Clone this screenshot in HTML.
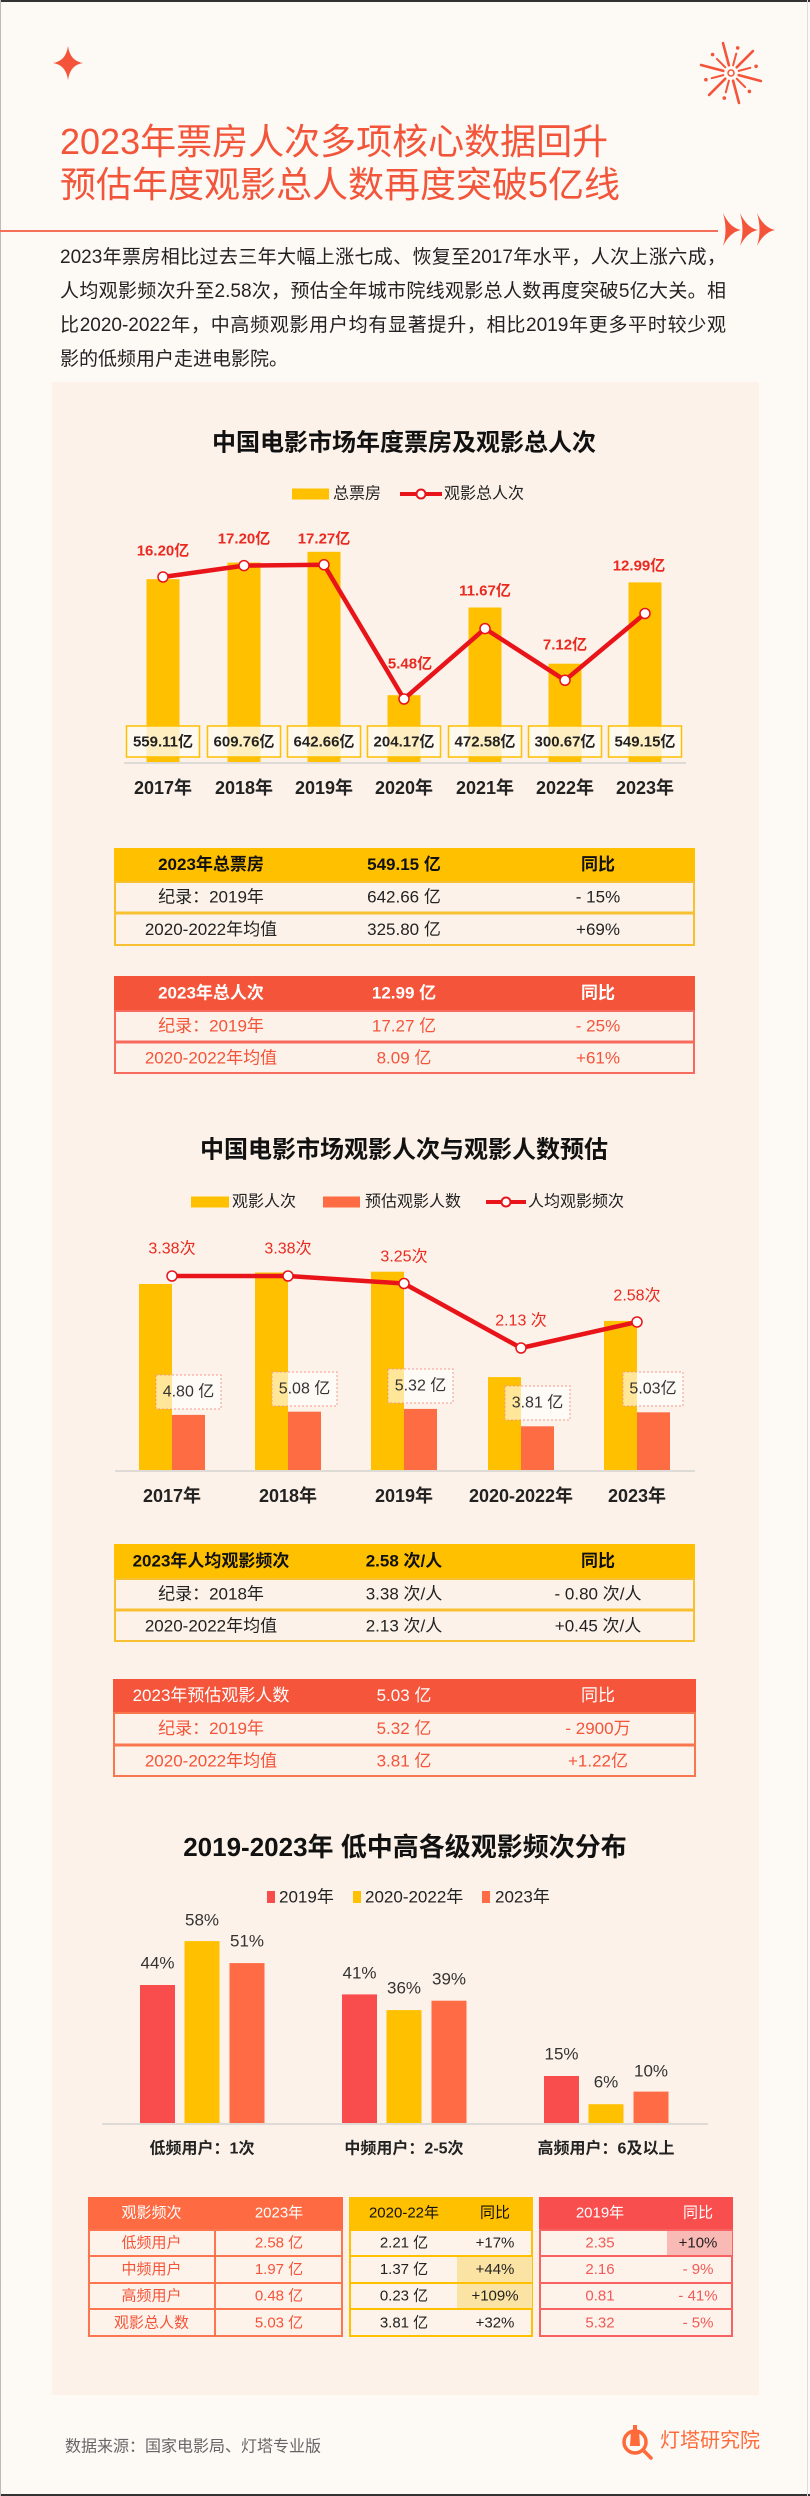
<!DOCTYPE html>
<html><head><meta charset="utf-8">
<style>
html,body{margin:0;padding:0;}
body{width:810px;height:2496px;position:relative;background:#fdf9f5;overflow:hidden;font-family:"Liberation Sans","Noto Sans CJK SC",sans-serif;}
svg{position:absolute;left:0;top:0;}
svg text{font-family:"Liberation Sans","Noto Sans CJK SC",sans-serif;}
.title{position:absolute;left:60px;font-size:36px;line-height:43px;color:#f2553a;white-space:nowrap;letter-spacing:0;}
.p{position:absolute;left:60px;width:666px;font-size:19px;line-height:34px;color:#222;text-align:justify;text-align-last:justify;}
</style></head><body>
<svg width="810" height="2496" viewBox="0 0 810 2496">
<!-- frame -->
<rect x="0" y="0" width="810" height="2" fill="#333"/>
<rect x="0" y="2494" width="810" height="2" fill="#333"/>
<rect x="0" y="0" width="1" height="2496" fill="#bbb"/>
<rect x="807" y="0" width="1" height="2496" fill="#ddd"/>

<!-- star -->
<path d="M68,46 Q70,61 83,63 Q70,65 68,80 Q66,65 53,63 Q66,61 68,46 Z" fill="#f4543a"/>
<!-- fireworks -->
<g stroke="#f4543a" stroke-linecap="round" fill="none">
<g stroke-width="2.6">
<line x1="738.7" y1="75.1" x2="760.9" y2="81.0"/>
<line x1="733.1" y1="80.7" x2="739.0" y2="102.9"/>
<line x1="725.3" y1="78.7" x2="709.1" y2="94.9"/>
<line x1="723.3" y1="70.9" x2="701.1" y2="65.0"/>
<line x1="728.9" y1="65.3" x2="723.0" y2="43.1"/>
<line x1="736.7" y1="67.3" x2="752.9" y2="51.1"/>
</g>
<g stroke-width="2">
<line x1="736.7" y1="78.7" x2="745.1" y2="87.1"/>
<line x1="728.9" y1="80.7" x2="725.8" y2="92.3"/>
<line x1="723.3" y1="75.1" x2="711.7" y2="78.2"/>
<line x1="725.3" y1="67.3" x2="716.9" y2="58.9"/>
<line x1="733.1" y1="65.3" x2="736.2" y2="53.7"/>
<line x1="738.7" y1="70.9" x2="750.3" y2="67.8"/>
</g>
<circle cx="731" cy="73" r="3" stroke-width="1.5"/>
</g>
<g fill="#f4543a">
<circle cx="749.4" cy="91.4" r="1.8"/><circle cx="724.3" cy="98.1" r="1.8"/><circle cx="705.9" cy="79.7" r="1.8"/>
<circle cx="712.6" cy="54.6" r="1.8"/><circle cx="737.7" cy="47.9" r="1.8"/><circle cx="756.1" cy="66.3" r="1.8"/>
</g>

<!-- divider line + arrows -->
<line x1="0" y1="231" x2="718" y2="231" stroke="#f4705a" stroke-width="2"/>
<g fill="#f4543a">
<path d="M723,213 Q730,228 741,230 Q730,232 723,246 Q728,230 723,213 Z"/>
<path d="M740,213 Q747,228 758,230 Q747,232 740,246 Q745,230 740,213 Z"/>
<path d="M757,213 Q764,228 775,230 Q764,232 757,246 Q762,230 757,213 Z"/>
</g>

<!-- card -->
<rect x="52" y="382" width="707" height="2013" fill="#fcf2e9"/>

<!-- ===== Chart 1 ===== -->
<text x="404" y="443" text-anchor="middle" dominant-baseline="central" font-size="24" font-weight="bold" fill="#111">中国电影市场年度票房及观影总人次</text>
<rect x="292" y="488.5" width="37" height="11" fill="#ffc000"/>
<text x="333" y="494" dominant-baseline="central" font-size="16" fill="#222">总票房</text>
<line x1="400" y1="494" x2="442" y2="494" stroke="#e8141a" stroke-width="4"/>
<circle cx="421" cy="494" r="4.5" fill="#fff" stroke="#e8141a" stroke-width="2"/>
<text x="444" y="494" dominant-baseline="central" font-size="16" fill="#222">观影总人次</text>

<g fill="#ffc000">
<rect x="146.5" y="579.2" width="33" height="182.8"/>
<rect x="227.5" y="562.6" width="33" height="199.4"/>
<rect x="307.5" y="551.8" width="33" height="210.2"/>
<rect x="387.5" y="695.2" width="33" height="66.8"/>
<rect x="468.5" y="607.5" width="33" height="154.5"/>
<rect x="548.5" y="663.7" width="33" height="98.3"/>
<rect x="628.5" y="582.4" width="33" height="179.6"/>
</g>
<line x1="124" y1="763" x2="686" y2="763" stroke="#dedad6" stroke-width="2"/>
<polyline points="163,577 244,565.6 324,564.8 404,699 485,628.6 565,680.3 645,613.5" fill="none" stroke="#e8141a" stroke-width="4.5" stroke-linejoin="round"/>
<g fill="#fff" stroke="#e8141a" stroke-width="1.5">
<circle cx="163" cy="577" r="5"/><circle cx="244" cy="565.6" r="5"/><circle cx="324" cy="564.8" r="5"/>
<circle cx="404" cy="699" r="5"/><circle cx="485" cy="628.6" r="5"/><circle cx="565" cy="680.3" r="5"/><circle cx="645" cy="613.5" r="5"/>
</g>
<g font-size="15" font-weight="bold" fill="#ea2a20" text-anchor="middle" dominant-baseline="central">
<text x="163" y="551">16.20亿</text>
<text x="244" y="539">17.20亿</text>
<text x="324" y="539">17.27亿</text>
<text x="410" y="664">5.48亿</text>
<text x="485" y="591">11.67亿</text>
<text x="565" y="645">7.12亿</text>
<text x="639" y="566">12.99亿</text>
</g>
<g fill="rgba(255,250,240,0.8)" stroke="#ffc000" stroke-width="1.5">
<rect x="126.5" y="726" width="73" height="31"/>
<rect x="207.5" y="726" width="73" height="31"/>
<rect x="287.5" y="726" width="73" height="31"/>
<rect x="367.5" y="726" width="73" height="31"/>
<rect x="448.5" y="726" width="73" height="31"/>
<rect x="528.5" y="726" width="73" height="31"/>
<rect x="608.5" y="726" width="73" height="31"/>
</g>
<g font-size="15" font-weight="bold" fill="#222" text-anchor="middle" dominant-baseline="central">
<text x="163" y="742">559.11亿</text>
<text x="244" y="742">609.76亿</text>
<text x="324" y="742">642.66亿</text>
<text x="404" y="742">204.17亿</text>
<text x="485" y="742">472.58亿</text>
<text x="565" y="742">300.67亿</text>
<text x="645" y="742">549.15亿</text>
</g>
<g font-size="18" font-weight="bold" fill="#222" text-anchor="middle" dominant-baseline="central">
<text x="163" y="788">2017年</text>
<text x="244" y="788">2018年</text>
<text x="324" y="788">2019年</text>
<text x="404" y="788">2020年</text>
<text x="485" y="788">2021年</text>
<text x="565" y="788">2022年</text>
<text x="645" y="788">2023年</text>
</g>

<!-- Table 1 -->
<rect x="114" y="848" width="581" height="33" fill="#ffc000"/>
<rect x="115" y="882" width="579" height="63" fill="#fcf2e9" stroke="#f7c031" stroke-width="2"/>
<line x1="115" y1="913" x2="694" y2="913" stroke="#f7c031" stroke-width="3"/>
<g font-size="17" text-anchor="middle" dominant-baseline="central">
<g font-weight="bold" fill="#111">
<text x="211" y="864.5">2023年总票房</text><text x="404" y="864.5">549.15 亿</text><text x="598" y="864.5">同比</text>
</g>
<g fill="#222">
<text x="211" y="897">纪录：2019年</text><text x="404" y="897">642.66 亿</text><text x="598" y="897">- 15%</text>
<text x="211" y="929.5">2020-2022年均值</text><text x="404" y="929.5">325.80 亿</text><text x="598" y="929.5">+69%</text>
</g>
</g>

<!-- Table 2 -->
<rect x="114" y="976" width="581" height="34" fill="#f4543a"/>
<rect x="115" y="1011" width="579" height="62" fill="#fcf2e9" stroke="#f76a5e" stroke-width="2"/>
<line x1="115" y1="1042" x2="694" y2="1042" stroke="#f76a5e" stroke-width="3"/>
<g font-size="17" text-anchor="middle" dominant-baseline="central">
<g font-weight="bold" fill="#fff">
<text x="211" y="993">2023年总人次</text><text x="404" y="993">12.99 亿</text><text x="598" y="993">同比</text>
</g>
<g fill="#f4543a">
<text x="211" y="1026">纪录：2019年</text><text x="404" y="1026">17.27 亿</text><text x="598" y="1026">- 25%</text>
<text x="211" y="1058">2020-2022年均值</text><text x="404" y="1058">8.09 亿</text><text x="598" y="1058">+61%</text>
</g>
</g>

<!-- ===== Chart 2 ===== -->
<text x="404" y="1150" text-anchor="middle" dominant-baseline="central" font-size="24" font-weight="bold" fill="#111">中国电影市场观影人次与观影人数预估</text>
<rect x="191" y="1196.5" width="38" height="11" fill="#ffc000"/>
<text x="232" y="1202" dominant-baseline="central" font-size="16" fill="#222">观影人次</text>
<rect x="323" y="1196.5" width="37" height="11" fill="#fe6c44"/>
<text x="365" y="1202" dominant-baseline="central" font-size="16" fill="#222">预估观影人数</text>
<line x1="486" y1="1202" x2="526" y2="1202" stroke="#e8141a" stroke-width="4"/>
<circle cx="506" cy="1202" r="4.5" fill="#fff" stroke="#e8141a" stroke-width="2"/>
<text x="528" y="1202" dominant-baseline="central" font-size="16" fill="#222">人均观影频次</text>

<g fill="#ffc000">
<rect x="139" y="1284" width="33" height="186"/>
<rect x="255" y="1272.5" width="33" height="197.5"/>
<rect x="371" y="1271.7" width="33" height="198.3"/>
<rect x="488" y="1377.1" width="33" height="92.9"/>
<rect x="604" y="1320.9" width="33" height="149.1"/>
</g>
<g fill="#fe6c44">
<rect x="172" y="1414.9" width="33" height="55.1"/>
<rect x="288" y="1411.7" width="33" height="58.3"/>
<rect x="404" y="1408.9" width="33" height="61.1"/>
<rect x="521" y="1426.3" width="33" height="43.7"/>
<rect x="637" y="1412.3" width="33" height="57.7"/>
</g>
<line x1="115" y1="1471" x2="695" y2="1471" stroke="#dedad6" stroke-width="2"/>
<polyline points="172,1276 288,1276 404,1283.5 521,1348 637,1322" fill="none" stroke="#e8141a" stroke-width="4.5" stroke-linejoin="round"/>
<g fill="#fff" stroke="#e8141a" stroke-width="1.5">
<circle cx="172" cy="1276" r="5"/><circle cx="288" cy="1276" r="5"/><circle cx="404" cy="1283.5" r="5"/>
<circle cx="521" cy="1348" r="5"/><circle cx="637" cy="1322" r="5"/>
</g>
<g font-size="16" fill="#ea2a20" text-anchor="middle" dominant-baseline="central">
<text x="172" y="1249">3.38次</text>
<text x="288" y="1249">3.38次</text>
<text x="404" y="1257">3.25次</text>
<text x="521" y="1321">2.13 次</text>
<text x="637" y="1296">2.58次</text>
</g>
<g fill="rgba(255,255,255,0.6)" stroke="#f59a8a" stroke-width="1" stroke-dasharray="2,2">
<rect x="156" y="1375" width="65" height="34"/>
<rect x="272" y="1372" width="65" height="34"/>
<rect x="388" y="1369" width="65" height="34"/>
<rect x="505" y="1386" width="65" height="34"/>
<rect x="623" y="1372" width="60" height="34"/>
</g>
<g font-size="16" fill="#333" text-anchor="middle" dominant-baseline="central">
<text x="188.5" y="1392">4.80 亿</text>
<text x="304.5" y="1389">5.08 亿</text>
<text x="420.5" y="1386">5.32 亿</text>
<text x="537.5" y="1403">3.81 亿</text>
<text x="653" y="1389">5.03亿</text>
</g>
<g font-size="18" font-weight="bold" fill="#222" text-anchor="middle" dominant-baseline="central">
<text x="172" y="1496">2017年</text>
<text x="288" y="1496">2018年</text>
<text x="404" y="1496">2019年</text>
<text x="521" y="1496">2020-2022年</text>
<text x="637" y="1496">2023年</text>
</g>

<!-- Table 3 -->
<rect x="114" y="1544" width="581" height="34" fill="#ffc000"/>
<rect x="115" y="1579" width="579" height="62" fill="#fcf2e9" stroke="#f7c031" stroke-width="2"/>
<line x1="115" y1="1610" x2="694" y2="1610" stroke="#f7c031" stroke-width="3"/>
<g font-size="17" text-anchor="middle" dominant-baseline="central">
<g font-weight="bold" fill="#111">
<text x="211" y="1561">2023年人均观影频次</text><text x="404" y="1561">2.58 次/人</text><text x="598" y="1561">同比</text>
</g>
<g fill="#222">
<text x="211" y="1594">纪录：2018年</text><text x="404" y="1594">3.38 次/人</text><text x="598" y="1594">- 0.80 次/人</text>
<text x="211" y="1626">2020-2022年均值</text><text x="404" y="1626">2.13 次/人</text><text x="598" y="1626">+0.45 次/人</text>
</g>
</g>

<!-- Table 4 -->
<rect x="113" y="1679" width="583" height="33" fill="#f5553b"/>
<rect x="114" y="1713" width="581" height="63" fill="#fcf2e9" stroke="#f8774f" stroke-width="2"/>
<line x1="114" y1="1745" x2="695" y2="1745" stroke="#f8774f" stroke-width="3"/>
<g font-size="17" text-anchor="middle" dominant-baseline="central">
<g fill="#fff">
<text x="211" y="1695.5">2023年预估观影人数</text><text x="404" y="1695.5">5.03 亿</text><text x="598" y="1695.5">同比</text>
</g>
<g fill="#f4543a">
<text x="211" y="1728.5">纪录：2019年</text><text x="404" y="1728.5">5.32 亿</text><text x="598" y="1728.5">- 2900万</text>
<text x="211" y="1761">2020-2022年均值</text><text x="404" y="1761">3.81 亿</text><text x="598" y="1761">+1.22亿</text>
</g>
</g>

<!-- ===== Chart 3 ===== -->
<text x="405" y="1847" text-anchor="middle" dominant-baseline="central" font-size="26" font-weight="bold" fill="#111">2019-2023年 低中高各级观影频次分布</text>
<rect x="267" y="1891" width="8" height="12" fill="#f94d4d"/>
<text x="279" y="1897" dominant-baseline="central" font-size="17" fill="#222">2019年</text>
<rect x="353" y="1891" width="8" height="12" fill="#ffc000"/>
<text x="365" y="1897" dominant-baseline="central" font-size="17" fill="#222">2020-2022年</text>
<rect x="482" y="1891" width="8" height="12" fill="#ff6b45"/>
<text x="495" y="1897" dominant-baseline="central" font-size="17" fill="#222">2023年</text>

<g fill="#f94d4d">
<rect x="140" y="1985" width="35" height="138"/>
<rect x="342" y="1994.4" width="35" height="128.6"/>
<rect x="544" y="2076" width="35" height="47"/>
</g>
<g fill="#ffc000">
<rect x="184.5" y="1941.1" width="35" height="181.9"/>
<rect x="386.5" y="2010.1" width="35" height="112.9"/>
<rect x="588.5" y="2104.2" width="35" height="18.8"/>
</g>
<g fill="#ff6b45">
<rect x="229.5" y="1963.1" width="35" height="159.9"/>
<rect x="431.5" y="2000.7" width="35" height="122.3"/>
<rect x="633.5" y="2091.6" width="35" height="31.4"/>
</g>
<line x1="102" y1="2124" x2="708" y2="2124" stroke="#dedad6" stroke-width="2"/>
<g font-size="17" fill="#333" text-anchor="middle" dominant-baseline="central">
<text x="157.5" y="1963">44%</text><text x="202" y="1920">58%</text><text x="247" y="1941">51%</text>
<text x="359.5" y="1973">41%</text><text x="404" y="1988">36%</text><text x="449" y="1979">39%</text>
<text x="561.5" y="2054">15%</text><text x="606" y="2082">6%</text><text x="651" y="2071">10%</text>
</g>
<g font-size="16" font-weight="bold" fill="#222" text-anchor="middle" dominant-baseline="central">
<text x="202" y="2149">低频用户：1次</text>
<text x="404" y="2149">中频用户：2-5次</text>
<text x="606" y="2149">高频用户：6及以上</text>
</g>

<!-- Bottom table A -->
<rect x="88" y="2197" width="255" height="32" fill="#fe6b43"/>
<rect x="89" y="2230" width="253" height="106" fill="#fdf3ea" stroke="#fe7650" stroke-width="2"/>
<g stroke="#fe7650" stroke-width="2">
<line x1="89" y1="2256" x2="342" y2="2256"/><line x1="89" y1="2283" x2="342" y2="2283"/><line x1="89" y1="2309" x2="342" y2="2309"/>
<line x1="215" y1="2229" x2="215" y2="2337"/>
</g>
<!-- Bottom table B -->
<rect x="349" y="2197" width="184" height="32" fill="#ffc000"/>
<rect x="350" y="2230" width="182" height="106" fill="#fdf3ea" stroke="#ffc000" stroke-width="2"/>
<rect x="457" y="2257" width="75" height="25" fill="#fbe3a3"/>
<rect x="457" y="2284" width="75" height="24" fill="#fbe3a3"/>
<g stroke="#ffc000" stroke-width="2">
<line x1="350" y1="2256" x2="532" y2="2256"/><line x1="350" y1="2283" x2="532" y2="2283"/><line x1="350" y1="2309" x2="532" y2="2309"/>
</g>
<!-- Bottom table C -->
<rect x="539" y="2197" width="194" height="32" fill="#f94e4e"/>
<rect x="540" y="2230" width="192" height="106" fill="#fdf3ea" stroke="#f76262" stroke-width="2"/>
<rect x="667" y="2231" width="65" height="24" fill="#f9b9b5"/>
<g stroke="#f76262" stroke-width="2">
<line x1="540" y1="2256" x2="732" y2="2256"/><line x1="540" y1="2283" x2="732" y2="2283"/><line x1="540" y1="2309" x2="732" y2="2309"/>
</g>
<g font-size="15" text-anchor="middle" dominant-baseline="central">
<g fill="#fff">
<text x="151.5" y="2213">观影频次</text><text x="279" y="2213">2023年</text>
<text x="600" y="2213">2019年</text><text x="698" y="2213">同比</text>
</g>
<g fill="#111"><text x="404" y="2213">2020-22年</text><text x="495" y="2213">同比</text></g>
<g fill="#f4543a">
<text x="151.5" y="2243">低频用户</text><text x="279" y="2243">2.58 亿</text>
<text x="151.5" y="2269.5">中频用户</text><text x="279" y="2269.5">1.97 亿</text>
<text x="151.5" y="2296">高频用户</text><text x="279" y="2296">0.48 亿</text>
<text x="151.5" y="2323">观影总人数</text><text x="279" y="2323">5.03 亿</text>
</g>
<g fill="#222">
<text x="404" y="2243">2.21 亿</text><text x="495" y="2243">+17%</text>
<text x="404" y="2269.5">1.37 亿</text><text x="495" y="2269.5">+44%</text>
<text x="404" y="2296">0.23 亿</text><text x="495" y="2296">+109%</text>
<text x="404" y="2323">3.81 亿</text><text x="495" y="2323">+32%</text>
<text x="698" y="2243">+10%</text>
</g>
<g fill="#f05a5a">
<text x="600" y="2243">2.35</text>
<text x="600" y="2269.5">2.16</text><text x="698" y="2269.5">- 9%</text>
<text x="600" y="2296">0.81</text><text x="698" y="2296">- 41%</text>
<text x="600" y="2323">5.32</text><text x="698" y="2323">- 5%</text>
</g>
</g>

<!-- footer -->
<text x="65" y="2447" dominant-baseline="central" font-size="16" fill="#666">数据来源：国家电影局、灯塔专业版</text>
<g fill="none" stroke="#ff6a3a" stroke-width="3.5" stroke-linecap="round">
<circle cx="635" cy="2442" r="11"/>
<line x1="643" y1="2450" x2="651" y2="2458"/>
</g>
<path d="M631,2430 L639,2430 L640,2446 L630,2446 Z" fill="#ff6a3a"/>
<rect x="633" y="2425" width="4" height="5" fill="#ff6a3a"/>
<text x="660" y="2441" dominant-baseline="central" font-size="20" fill="#ff6a3a">灯塔研究院</text>
</svg>

<div class="title" style="top:120px;">2023年票房人次多项核心数据回升</div>
<div class="title" style="top:163px;">预估年度观影总人数再度突破5亿线</div>

<div class="p" style="top:241px;">2023年票房相比过去三年大幅上涨七成、恢复至2017年水平，人次上涨六成，</div>
<div class="p" style="top:275px;">人均观影频次升至2.58次，预估全年城市院线观影总人数再度突破5亿大关。相</div>
<div class="p" style="top:309px;">比2020-2022年，中高频观影用户均有显著提升，相比2019年更多平时较少观</div>
<div class="p" style="top:343px;text-align-last:left;">影的低频用户走进电影院。</div>
</body></html>
